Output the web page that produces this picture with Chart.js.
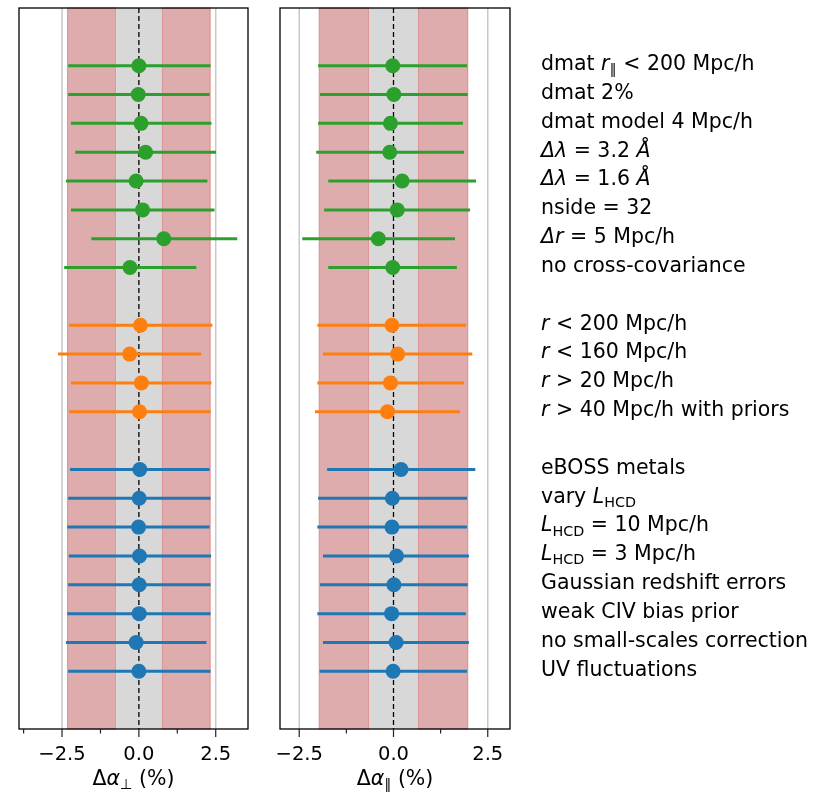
<!DOCTYPE html>
<html>
<head>
<meta charset="utf-8">
<script src="https://cdn.jsdelivr.net/npm/chart.js@4.4.1/dist/chart.umd.min.js"></script>
<style>
    body { margin: 0; background: #fff; }
    #wrap { position: relative; width: 834px; height: 794px; }
    canvas { position: absolute; top: 0; }
</style>
</head>
<body>
<div id="wrap">
    <canvas id="perpChart" width="265" height="794" style="left:0"></canvas>
    <canvas id="parChart" width="569" height="794" style="left:265px"></canvas>
</div>
<script>
// --- Data (rows listed top to bottom) ---
// label pieces: [text, style] with style '' normal, 'i' italic, 's' subscript
const dmatLabels = [
    [['dmat '], ['r', 'i'], ['∥', 's'], [' < 200 Mpc/h']],
    [['dmat 2%']],
    [['dmat model 4 Mpc/h']],
    [['Δλ', 'i'], [' = 3.2 '], ['Å', 'i']],
    [['Δλ', 'i'], [' = 1.6 '], ['Å', 'i']],
    [['nside = 32']],
    [['Δr', 'i'], [' = 5 Mpc/h']],
    [['no cross-covariance']]
];
const rangeLabels = [
    [['r', 'i'], [' < 200 Mpc/h']],
    [['r', 'i'], [' < 160 Mpc/h']],
    [['r', 'i'], [' > 20 Mpc/h']],
    [['r', 'i'], [' > 40 Mpc/h with priors']]
];
const modelLabels = [
    [['eBOSS metals']],
    [['vary '], ['L', 'i'], ['HCD', 's']],
    [['L', 'i'], ['HCD', 's'], [' = 10 Mpc/h']],
    [['L', 'i'], ['HCD', 's'], [' = 3 Mpc/h']],
    [['Gaussian redshift errors']],
    [['weak CIV bias prior']],
    [['no small-scales correction']],
    [['UV fluctuations']]
];

// Delta alpha_perp (%)
const perpCentre = [0.00, -0.02, 0.07, 0.22, -0.09, 0.12, 0.81, -0.29,
                    0.05, -0.30, 0.08, 0.02,
                    0.03, 0.01, -0.01, 0.02, 0.01, 0.01, -0.09, 0.00];
const perpLow = [-2.30, -2.30, -2.21, -2.07, -2.37, -2.21, -1.55, -2.43,
                 -2.27, -2.63, -2.21, -2.27,
                 -2.24, -2.30, -2.33, -2.28, -2.30, -2.33, -2.37, -2.30];
const perpHigh = [2.33, 2.30, 2.36, 2.51, 2.23, 2.46, 3.20, 1.87,
                  2.39, 2.03, 2.36, 2.33,
                  2.30, 2.33, 2.30, 2.35, 2.33, 2.33, 2.20, 2.33];

// Delta alpha_par (%)
const parCentre = [-0.02, 0.01, -0.08, -0.10, 0.23, 0.10, -0.40, -0.02,
                   -0.04, 0.11, -0.08, -0.16,
                   0.20, -0.03, -0.04, 0.08, 0.01, -0.05, 0.07, -0.01];
const parLow = [-2.00, -1.95, -2.00, -2.05, -1.73, -1.84, -2.42, -1.73,
                -2.02, -1.87, -2.02, -2.08,
                -1.76, -2.00, -2.02, -1.87, -1.95, -2.02, -1.87, -1.96];
const parHigh = [1.95, 1.97, 1.84, 1.87, 2.19, 2.03, 1.63, 1.68,
                 1.92, 2.09, 1.87, 1.76,
                 2.17, 1.95, 1.95, 2.00, 1.97, 1.92, 2.00, 1.95];

// reference bands: [perp, par]
const bandOuter = [2.32, 1.97];
const bandInner = [0.75, 0.65];

const majorTicks = [-2.5, 0, 2.5];
const minorTicks = [-3.75, -1.25, 1.25, 3.75];

// --- Build rows (groups separated by one empty slot) ---
const groups = [dmatLabels, rangeLabels, modelLabels];
const groupColours = ['#2ca02c', '#ff7f0e', '#1f77b4'];
const rows = [];
let slot = dmatLabels.length + rangeLabels.length + modelLabels.length + groups.length - 2;
groups.forEach((labels, g) => {
    labels.forEach(lab => {
        rows.push({ label: lab, y: slot, colour: groupColours[g] });
        slot--;
    });
    slot--;
});

const FONT = '"DejaVu Sans"';
Chart.defaults.font.family = FONT;
Chart.defaults.color = '#000';

function drawRich(ctx, segs, x, y, size, align) {
    const fontFor = s => (s[1] && s[1].includes('i') ? 'italic ' : '') +
        ((s[1] && s[1].includes('s')) ? size * 0.7 : size) + 'px ' + FONT;
    let widths = segs.map(s => { ctx.font = fontFor(s); return ctx.measureText(s[0]).width; });
    let total = widths.reduce((a, b) => a + b, 0);
    let cx = align === 'center' ? x - total / 2 : x;
    ctx.textBaseline = 'middle';
    ctx.textAlign = 'left';
    ctx.fillStyle = '#000';
    segs.forEach((s, i) => {
        ctx.font = fontFor(s);
        const dy = (s[1] && s[1].includes('s')) ? size * 0.28 : 0;
        ctx.fillText(s[0], cx, y + dy);
        cx += widths[i];
    });
}

// bands, grid lines and zero line behind the error bars
const bandPlugin = {
    id: 'bands',
    beforeDatasetsDraw(chart, args, opts) {
        const { ctx, chartArea: a, scales: { x } } = chart;
        ctx.save();
        // grid at labelled ticks
        ctx.strokeStyle = '#c8c8c8';
        ctx.lineWidth = 1.5;
        majorTicks.forEach(v => {
            if (v === 0) return;
            const px = x.getPixelForValue(v);
            ctx.beginPath(); ctx.moveTo(px, a.top); ctx.lineTo(px, a.bottom); ctx.stroke();
        });
        const spans = [[-opts.outer, -opts.inner], [opts.inner, opts.outer]];
        spans.forEach(([lo, hi]) => {
            const x0 = x.getPixelForValue(lo), x1 = x.getPixelForValue(hi);
            ctx.fillStyle = 'rgb(222,172,172)';
            ctx.fillRect(x0, a.top, x1 - x0, a.bottom - a.top);
            ctx.strokeStyle = 'rgba(220,110,110,0.7)';
            ctx.lineWidth = 1;
            ctx.strokeRect(x0, a.top, x1 - x0, a.bottom - a.top);
        });
        const g0 = x.getPixelForValue(-opts.inner), g1 = x.getPixelForValue(opts.inner);
        ctx.fillStyle = '#d8d8d8';
        ctx.fillRect(g0 + 0.5, a.top, g1 - g0 - 1, a.bottom - a.top);
        // zero line
        const z = x.getPixelForValue(0);
        ctx.strokeStyle = '#000';
        ctx.lineWidth = 1.3;
        ctx.setLineDash([5, 3]);
        ctx.beginPath(); ctx.moveTo(z, a.top); ctx.lineTo(z, a.bottom); ctx.stroke();
        ctx.restore();
    }
};

// spines, tick marks, axis title, row labels
const framePlugin = {
    id: 'frame',
    afterDraw(chart, args, opts) {
        const { ctx, chartArea: a, scales: { x, y } } = chart;
        ctx.save();
        ctx.strokeStyle = '#000';
        ctx.lineWidth = 1.3;
        ctx.strokeRect(a.left, a.top, a.right - a.left, a.bottom - a.top);
        ctx.strokeStyle = '#222';
        ctx.lineWidth = 1.2;
        x.ticks.forEach(t => {
            const px = x.getPixelForValue(t.value);
            const len = majorTicks.includes(t.value) ? 8 : 4.5;
            ctx.beginPath(); ctx.moveTo(px, a.bottom); ctx.lineTo(px, a.bottom + len); ctx.stroke();
        });
        drawRich(ctx, opts.title, (a.left + a.right) / 2, 780, 20.5, 'center');
        if (opts.showLabels) {
            rows.forEach(r => {
                drawRich(ctx, r.label, a.right + 31, y.getPixelForValue(r.y) - 1, 20.5, 'left');
            });
        }
        ctx.restore();
    }
};

function buildDatasets(centre, low, high) {
    const sets = [];
    // markers on top (lower index draws last)
    groupColours.forEach(col => {
        sets.push({
            data: rows.map((r, i) => ({ x: centre[i], y: r.y })).filter((p, i) => rows[i].colour === col),
            backgroundColor: col,
            borderColor: col,
            pointRadius: 7.5,
            pointBorderWidth: 0,
            showLine: false,
            order: 0
        });
    });
    rows.forEach((r, i) => {
        sets.push({
            data: [{ x: low[i], y: r.y }, { x: high[i], y: r.y }],
            borderColor: r.colour,
            borderWidth: 3,
            pointRadius: 0,
            showLine: true,
            order: 1
        });
    });
    return sets;
}

function makeChart(id, centre, low, high, xMin, xMax, band, padding, title, showLabels) {
    const ctx = document.getElementById(id).getContext('2d');
    return new Chart(ctx, {
        type: 'scatter',
        data: { datasets: buildDatasets(centre, low, high) },
        options: {
            responsive: false,
            animation: false,
            layout: { padding: padding },
            plugins: {
                legend: { display: false },
                tooltip: { enabled: false },
                bands: band,
                frame: { title: title, showLabels: showLabels }
            },
            scales: {
                x: {
                    type: 'linear',
                    min: xMin,
                    max: xMax,
                    grid: { display: false },
                    border: { display: false },
                    afterBuildTicks: scale => {
                        scale.ticks = minorTicks.concat(majorTicks)
                            .filter(v => v >= scale.min && v <= scale.max)
                            .sort((p, q) => p - q)
                            .map(v => ({ value: v }));
                    },
                    afterFit: scale => {
                        scale.height = 65;
                        scale.paddingLeft = 0;
                        scale.paddingRight = 0;
                    },
                    ticks: {
                        autoSkip: false,
                        maxRotation: 0,
                        padding: 6,
                        font: { size: 19.5 },
                        color: '#000',
                        callback: v => majorTicks.includes(v) ? v.toFixed(1).replace('-', '−') : ''
                    }
                },
                y: {
                    type: 'linear',
                    min: -2,
                    max: 23,
                    display: false
                }
            }
        },
        plugins: [bandPlugin, framePlugin]
    });
}

makeChart('perpChart', perpCentre, perpLow, perpHigh, -3.9, 3.55,
    { outer: bandOuter[0], inner: bandInner[0] },
    { left: 19, right: 17, top: 8, bottom: 0 },
    [['Δ'], ['α', 'i'], ['⊥', 's'], [' (%)']], false);

makeChart('parChart', parCentre, parLow, parHigh, -3.01, 3.09,
    { outer: bandOuter[1], inner: bandInner[1] },
    { left: 15, right: 324, top: 8, bottom: 0 },
    [['Δ'], ['α', 'i'], ['∥', 's'], [' (%)']], true);
</script>
</body>
</html>
